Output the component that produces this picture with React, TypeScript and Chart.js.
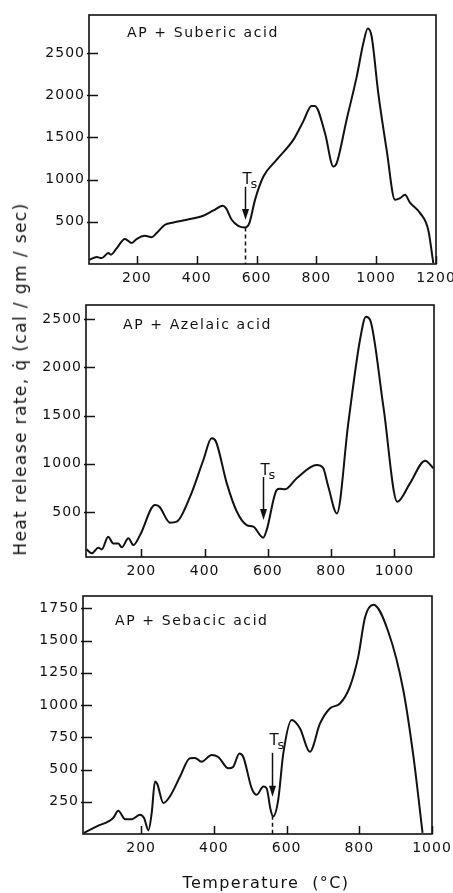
import { useEffect, useRef } from "react";
import { Chart, registerables } from "chart.js";

Chart.register(...registerables);

// ---------- Panel 1: AP + Suberic acid ----------
const suberT = [41, 66, 82, 105, 113, 133, 160, 183, 199, 227, 250, 266, 294, 322, 367, 422, 456, 487, 498, 517, 539, 561, 576, 595, 623, 667, 723, 756, 784, 795, 829, 857, 868, 901, 935, 957, 972, 985, 1007, 1035, 1063, 1080, 1096, 1113, 1147, 1174, 1191];
const suberQ = [50, 82, 70, 130, 110, 189, 295, 248, 295, 334, 318, 366, 465, 492, 524, 571, 634, 690, 662, 524, 453, 433, 485, 760, 1036, 1234, 1470, 1687, 1873, 1873, 1550, 1154, 1195, 1707, 2220, 2615, 2790, 2693, 2023, 1352, 760, 780, 820, 728, 603, 405, 10];
const suberXTicks = [200, 400, 600, 800, 1000, 1200];
const suberYTicks = [500, 1000, 1500, 2000, 2500];

// ---------- Panel 2: AP + Azelaic acid ----------
const azelT = [27, 43, 64, 75, 95, 111, 127, 138, 159, 175, 196, 243, 257, 291, 312, 354, 396, 422, 436, 470, 502, 533, 554, 585, 596, 628, 638, 654, 691, 754, 774, 791, 818, 854, 891, 910, 923, 965, 1009, 1049, 1097, 1123];
const azelQ = [113, 72, 130, 113, 244, 175, 175, 134, 227, 158, 262, 573, 555, 389, 400, 659, 1039, 1264, 1228, 797, 503, 365, 348, 234, 313, 728, 740, 735, 849, 987, 960, 762, 486, 1419, 2282, 2524, 2490, 1591, 607, 797, 1032, 953];
const azelXTicks = [200, 400, 600, 800, 1000];
const azelYTicks = [500, 1000, 1500, 2000, 2500];

// ---------- Panel 3: AP + Sebacic acid ----------
const sebaT = [43, 78, 110, 123, 137, 156, 174, 197, 208, 220, 229, 238, 244, 261, 279, 307, 334, 348, 366, 394, 412, 440, 453, 470, 481, 504, 518, 536, 545, 556, 563, 577, 591, 614, 637, 664, 692, 719, 747, 774, 797, 816, 839, 880, 921, 949, 974];
const sebaQ = [8, 59, 98, 124, 180, 115, 115, 150, 124, 28, 163, 407, 390, 240, 291, 446, 588, 590, 560, 612, 597, 509, 520, 625, 597, 354, 304, 368, 355, 188, 136, 265, 625, 884, 818, 637, 857, 973, 1012, 1141, 1373, 1682, 1777, 1566, 1116, 599, 8];
const sebaXTicks = [200, 400, 600, 800, 1000];
const sebaYTicks = [250, 500, 750, 1000, 1250, 1500, 1750];

// Ts markers: [temperature, arrow top q, arrow tip q, label q, dashed-from q (or null)]
const suberTs = [561, 914, 520, 950, 433];
const azelTs = [585, 863, 417, 885, null];
const sebaTs = [559, 629, 289, 690, 142];

const INK = "#111";
const FONT = "'DejaVu Sans', sans-serif";
const X_AXIS_H = 34;

type Panel = {
  title: string;
  T: number[];
  Q: number[];
  xTicks: number[];
  yTicks: number[];
  xMin: number;
  xMax: number;
  yMin: number;
  yMax: number;
  ts: (number | null)[];
  top: number;
  left: number;
  right: number;
  areaTop: number;
  areaBottom: number;
  titleDx: number;
  titleDy: number;
};

const panels: Panel[] = [
  {
    title: "AP + Suberic acid", T: suberT, Q: suberQ, xTicks: suberXTicks, yTicks: suberYTicks,
    xMin: 40, xMax: 1200, yMin: 0, yMax: 2950, ts: suberTs,
    top: 0, left: 89, right: 436, areaTop: 15, areaBottom: 264, titleDx: 38, titleDy: 18,
  },
  {
    title: "AP + Azelaic acid", T: azelT, Q: azelQ, xTicks: azelXTicks, yTicks: azelYTicks,
    xMin: 25, xMax: 1125, yMin: 34, yMax: 2645, ts: azelTs,
    top: 290, left: 86, right: 434, areaTop: 305, areaBottom: 557, titleDx: 37, titleDy: 20,
  },
  {
    title: "AP + Sebacic acid", T: sebaT, Q: sebaQ, xTicks: sebaXTicks, yTicks: sebaYTicks,
    xMin: 40, xMax: 1000, yMin: 0, yMax: 1845, ts: sebaTs,
    top: 580, left: 83, right: 432, areaTop: 596, areaBottom: 834, titleDx: 32, titleDy: 25,
  },
];

const decor = {
  id: "decor",
  beforeDraw(chart: any) {
    chart.ctx.letterSpacing = "1px";
  },
  afterDraw(chart: any, _args: any, opts: any) {
    const { ctx, chartArea: a, scales } = chart;
    const x = scales.x;
    const y = scales.y;
    const p: Panel = opts.panel;
    ctx.save();
    ctx.letterSpacing = "0px";
    ctx.strokeStyle = INK;
    ctx.fillStyle = INK;
    ctx.lineWidth = 1.6;
    ctx.setLineDash([]);
    ctx.strokeRect(a.left, a.top, a.right - a.left, a.bottom - a.top);
    ctx.lineWidth = 1.5;
    ctx.beginPath();
    for (const v of p.xTicks) {
      const px = Math.round(x.getPixelForValue(v)) + 0.5;
      ctx.moveTo(px, a.bottom);
      ctx.lineTo(px, a.bottom - 8);
    }
    for (const v of p.yTicks) {
      const py = Math.round(y.getPixelForValue(v)) + 0.5;
      ctx.moveTo(a.left - 2, py);
      ctx.lineTo(a.left + 9, py);
    }
    ctx.stroke();

    // title
    ctx.font = `14px ${FONT}`;
    ctx.letterSpacing = "1.6px";
    ctx.textBaseline = "middle";
    ctx.textAlign = "left";
    ctx.fillText(p.title, a.left + p.titleDx, a.top + p.titleDy);

    // Ts arrow
    const [tx, qTop, qTip, qLabel, qDash] = p.ts as number[];
    const ax = Math.round(x.getPixelForValue(tx)) + 0.5;
    const yTop = y.getPixelForValue(qTop);
    const yTip = y.getPixelForValue(qTip);
    ctx.lineWidth = 1.5;
    ctx.beginPath();
    ctx.moveTo(ax, yTop);
    ctx.lineTo(ax, yTip - 8);
    ctx.stroke();
    ctx.beginPath();
    ctx.moveTo(ax - 3.5, yTip - 11);
    ctx.lineTo(ax + 3.5, yTip - 11);
    ctx.lineTo(ax, yTip);
    ctx.closePath();
    ctx.fill();
    if (qDash !== null && qDash !== undefined) {
      ctx.setLineDash([4, 3]);
      ctx.beginPath();
      ctx.moveTo(ax, y.getPixelForValue(qDash));
      ctx.lineTo(ax, a.bottom);
      ctx.stroke();
      ctx.setLineDash([]);
    }
    const ly = y.getPixelForValue(qLabel);
    ctx.letterSpacing = "0px";
    ctx.textBaseline = "alphabetic";
    ctx.font = `15px ${FONT}`;
    ctx.fillText("T", ax - 3, ly);
    ctx.font = `13px ${FONT}`;
    ctx.fillText("s", ax + 5, ly + 4);
    ctx.restore();
  },
};

function PanelChart({ p }: { p: Panel }) {
  const ref = useRef<HTMLCanvasElement | null>(null);
  const height = p.areaBottom - p.top + X_AXIS_H;
  useEffect(() => {
    if (!ref.current) return;
    const yWidth = p.left;
    const chart = new Chart(ref.current, {
      type: "line",
      data: {
        datasets: [
          {
            data: p.T.map((t, i) => ({ x: t, y: p.Q[i] })),
            borderColor: INK,
            borderWidth: 2,
            pointRadius: 0,
            fill: false,
            cubicInterpolationMode: "monotone",
          },
        ],
      },
      options: {
        animation: false,
        responsive: false,
        maintainAspectRatio: false,
        events: [],
        layout: {
          padding: { top: p.areaTop - p.top, right: 453 - p.right, bottom: 0, left: 0 },
        },
        plugins: {
          legend: { display: false },
          tooltip: { enabled: false },
          title: { display: false },
          decor: { panel: p },
        } as any,
        scales: {
          x: {
            type: "linear",
            min: p.xMin,
            max: p.xMax,
            bounds: "data",
            grid: { display: false, drawTicks: false, tickLength: 0 },
            border: { display: false },
            ticks: {
              autoSkip: false,
              maxRotation: 0,
              minRotation: 0,
              padding: 6,
              color: INK,
              font: { family: FONT, size: 14 },
              callback: (v: any) => String(v),
            },
            afterBuildTicks: (ax: any) => {
              ax.ticks = p.xTicks.map((value) => ({ value }));
            },
            afterFit: (ax: any) => {
              ax.height = X_AXIS_H;
              ax.paddingLeft = 0;
              ax.paddingRight = 0;
              ax.paddingTop = 0;
              ax.paddingBottom = 0;
            },
          },
          y: {
            type: "linear",
            min: p.yMin,
            max: p.yMax,
            bounds: "data",
            grid: { display: false, drawTicks: false, tickLength: 0 },
            border: { display: false },
            ticks: {
              autoSkip: false,
              padding: 4,
              color: INK,
              font: { family: FONT, size: 14 },
              callback: (v: any) => String(v),
            },
            afterBuildTicks: (ax: any) => {
              ax.ticks = p.yTicks.map((value) => ({ value }));
            },
            afterFit: (ax: any) => {
              ax.width = yWidth;
              ax.paddingLeft = 0;
              ax.paddingRight = 0;
              ax.paddingTop = 0;
              ax.paddingBottom = 0;
            },
          },
        },
      } as any,
      plugins: [decor as any],
    });
    return () => chart.destroy();
  }, [p]);
  return (
    <canvas
      ref={ref}
      width={453}
      height={height}
      style={{ position: "absolute", left: 0, top: p.top, width: 453, height }}
    />
  );
}

export default function App() {
  return (
    <div
      style={{
        position: "fixed",
        left: 0,
        top: 0,
        width: 453,
        height: 893,
        background: "#fff",
        overflow: "hidden",
        fontFamily: FONT,
        color: INK,
      }}
    >
      {panels.map((p, i) => (
        <PanelChart key={i} p={p} />
      ))}
      <div
        style={{
          position: "absolute",
          left: 20,
          top: 379,
          transform: "translate(-50%, -50%) rotate(-90deg)",
          whiteSpace: "nowrap",
          fontSize: 17,
          letterSpacing: "1.4px",
        }}
      >
        Heat release rate, q̇ (cal / gm / sec)
      </div>
      <div
        style={{
          position: "absolute",
          left: 266,
          top: 882,
          transform: "translate(-50%, -50%)",
          whiteSpace: "pre",
          fontSize: 16,
          letterSpacing: "1.4px",
        }}
      >
        {"Temperature  (°C)"}
      </div>
    </div>
  );
}
